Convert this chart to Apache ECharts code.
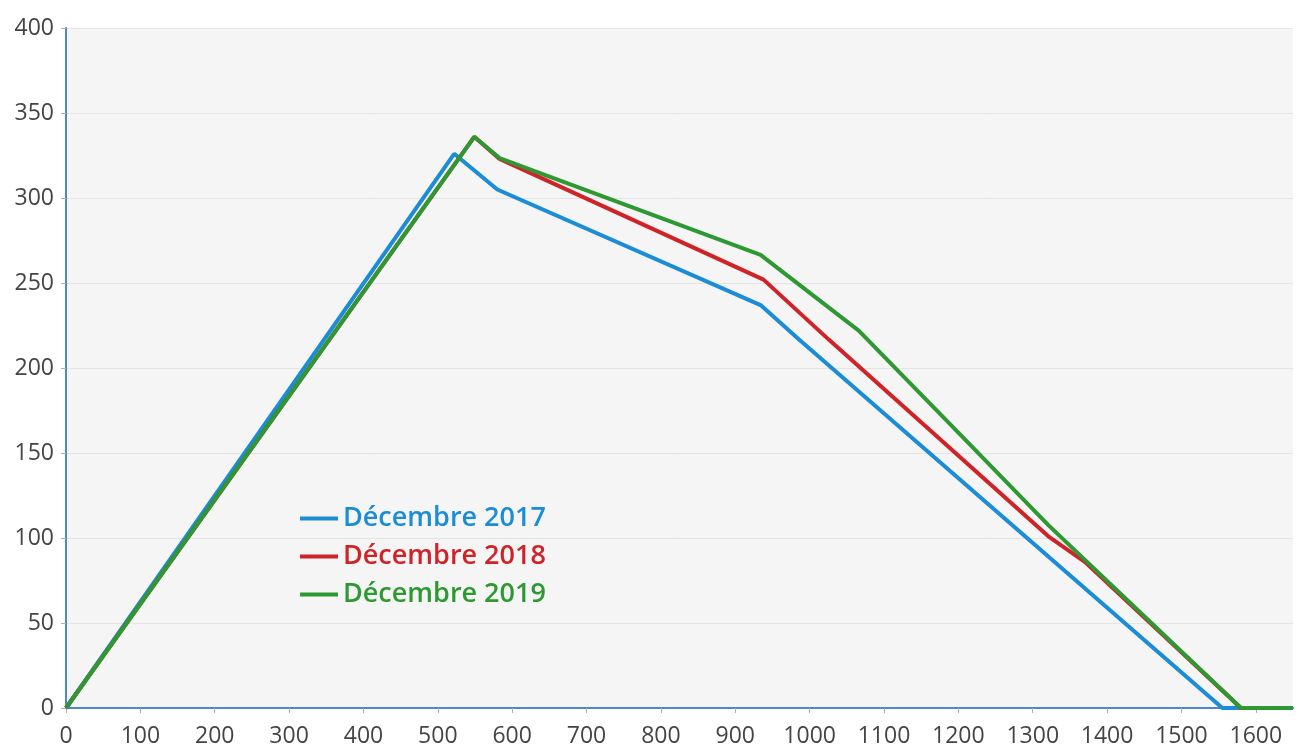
<!DOCTYPE html>
<html>
<head>
<meta charset="utf-8">
<script src="https://cdn.jsdelivr.net/npm/echarts@6/dist/echarts.min.js"></script>
<style>
  html, body { margin: 0; padding: 0; background: #fff; }
  #chart { width: 1303px; height: 749px; }
</style>
</head>
<body>
<div id="chart"></div>
<script>
// Courbes décembre 2017 / 2018 / 2019

const seriesNames = ['Décembre 2017', 'Décembre 2018', 'Décembre 2019'];
const seriesColors = ['#1b8cd6', '#cf2328', '#2e9832'];

const x2017 = [0, 522, 580, 934, 985, 1555, 1650];
const y2017 = [0, 326, 305, 237, 217, 0, 0];

const x2018 = [0, 549, 583, 938, 1025, 1321, 1370, 1580, 1650];
const y2018 = [0, 336, 323, 252, 217, 101, 86, 0, 0];

const x2019 = [0, 549, 583, 934, 1066, 1200, 1321, 1580, 1650];
const y2019 = [0, 336, 323.5, 266.5, 222, 162, 107.6, 0, 0];

const xTicks = [0, 100, 200, 300, 400, 500, 600, 700, 800, 900, 1000, 1100, 1200, 1300, 1400, 1500, 1600];

function pairs(xs, ys) {
    let out = [];
    for (let i = 0; i < xs.length; i++) {
        out.push([xs[i], ys[i]]);
    }
    return out;
}

const allData = [pairs(x2017, y2017), pairs(x2018, y2018), pairs(x2019, y2019)];

let option = {
    animation: false,
    backgroundColor: '#ffffff',
    grid: {
        left: 66,
        right: 10,
        top: 28,
        bottom: 41,
        show: true,
        backgroundColor: '#f5f5f5',
        borderWidth: 0
    },
    legend: {
        orient: 'vertical',
        left: 295,
        top: 500,
        itemWidth: 38,
        itemHeight: 4,
        itemGap: 11,
        icon: 'rect',
        textStyle: {
            fontFamily: 'Open Sans',
            fontWeight: 600,
            fontSize: 27
        },
        data: seriesNames.map((n, i) => ({
            name: n,
            textStyle: { color: seriesColors[i] }
        }))
    },
    xAxis: {
        type: 'value',
        min: 0,
        max: 1650,
        interval: 100,
        axisLine: { show: true, lineStyle: { color: '#4f88c9', width: 2 } },
        axisTick: { show: true, length: 5, lineStyle: { color: '#b0b0b0' }, customValues: xTicks },
        axisLabel: {
            color: '#444444',
            fontFamily: 'Open Sans',
            fontSize: 23,
            margin: 17,
            customValues: xTicks,
            formatter: v => String(v)
        },
        splitLine: { show: false }
    },
    yAxis: {
        type: 'value',
        min: 0,
        max: 400,
        interval: 50,
        axisLine: { show: true, lineStyle: { color: '#4f88c9', width: 2 } },
        axisTick: { show: true, length: 5, lineStyle: { color: '#b0b0b0' } },
        axisLabel: {
            color: '#444444',
            fontFamily: 'Open Sans',
            fontSize: 23,
            margin: 12,
            formatter: v => String(v)
        },
        splitLine: { show: true, lineStyle: { color: '#e4e4e4', width: 1 } }
    },
    series: allData.map((d, i) => ({
        name: seriesNames[i],
        type: 'line',
        data: d,
        showSymbol: false,
        symbol: 'none',
        lineStyle: { color: seriesColors[i], width: 4 },
        itemStyle: { color: seriesColors[i] }
    }))
};

echarts.init(document.getElementById('chart')).setOption(option);
</script>
</body>
</html>
